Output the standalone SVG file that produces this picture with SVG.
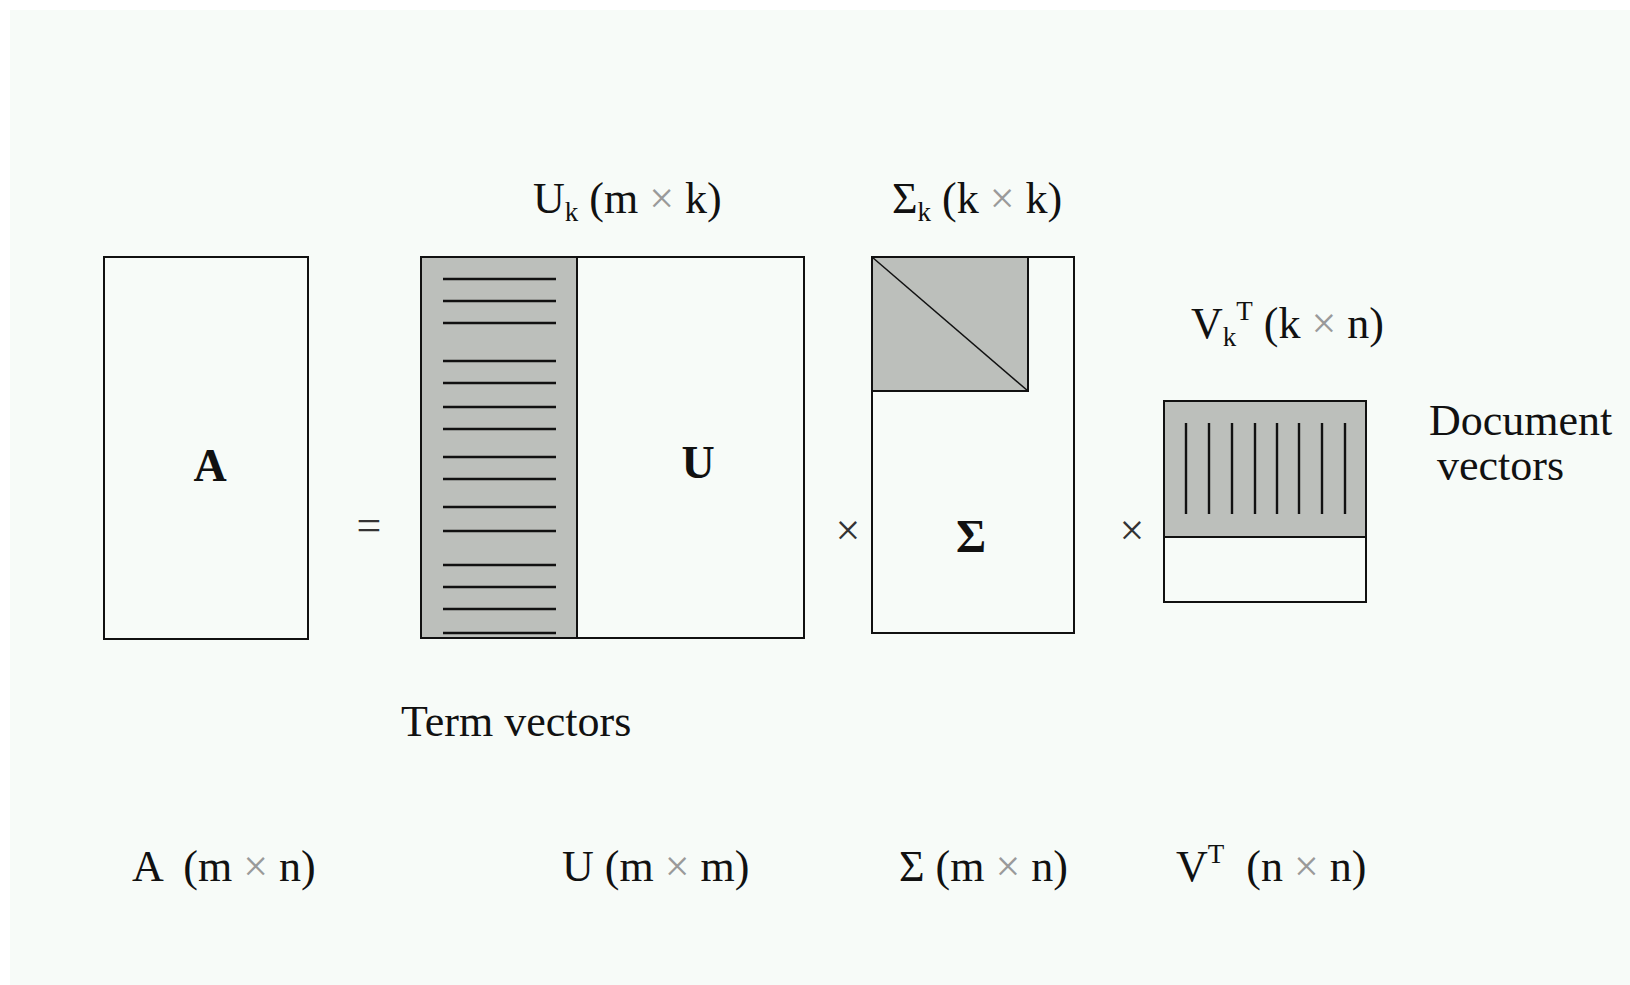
<svg xmlns="http://www.w3.org/2000/svg" width="1630" height="985" viewBox="0 0 1630 985">
<style>
.box{fill:#f7fbf8;stroke:#111;stroke-width:2}
.shade{fill:#bcbfbb;stroke:#111;stroke-width:2}
.hatch{stroke:#111;stroke-width:2.4}
.t{font-family:"Liberation Serif","Times New Roman",serif;font-size:44px;fill:#111}
.b{font-family:"Liberation Serif","Times New Roman",serif;font-size:46px;font-weight:bold;fill:#111;text-anchor:middle}
.x{fill:#9a9a9a}
.op{font-family:"Liberation Serif","Times New Roman",serif;font-size:44px;fill:#333;text-anchor:middle}
</style>
<rect x="0" y="0" width="1630" height="985" fill="#ffffff"/>
<rect x="10" y="10" width="1620" height="975" fill="#f7fbf8"/>

<g id="matrixA">
<rect class="box" x="104" y="257" width="204" height="382"/>
<text class="b" x="210" y="481">A</text>
</g>

<g id="matrixU">
<rect class="box" x="421" y="257" width="383" height="381"/>
<rect class="shade" x="421" y="257" width="156" height="381"/>
<g class="hatch">
<line x1="443" y1="279" x2="556" y2="279"/>
<line x1="443" y1="301" x2="556" y2="301"/>
<line x1="443" y1="323" x2="556" y2="323"/>
<line x1="443" y1="361" x2="556" y2="361"/>
<line x1="443" y1="383" x2="556" y2="383"/>
<line x1="443" y1="407" x2="556" y2="407"/>
<line x1="443" y1="429" x2="556" y2="429"/>
<line x1="443" y1="457" x2="556" y2="457"/>
<line x1="443" y1="479" x2="556" y2="479"/>
<line x1="443" y1="507" x2="556" y2="507"/>
<line x1="443" y1="531" x2="556" y2="531"/>
<line x1="443" y1="565" x2="556" y2="565"/>
<line x1="443" y1="587" x2="556" y2="587"/>
<line x1="443" y1="609" x2="556" y2="609"/>
<line x1="443" y1="633" x2="556" y2="633"/>
</g>
<text class="b" x="698" y="478">U</text>
</g>

<g id="matrixSigma">
<rect class="box" x="872" y="257" width="202" height="376"/>
<rect class="shade" x="872" y="257" width="156" height="134"/>
<line x1="872" y1="257" x2="1028" y2="391" stroke="#111" stroke-width="1.5"/>
<text class="b" x="971" y="552">Σ</text>
</g>

<g id="matrixVT">
<rect class="box" x="1164" y="401" width="202" height="201"/>
<rect class="shade" x="1164" y="401" width="202" height="136"/>
<g class="hatch">
<line x1="1186" y1="423" x2="1186" y2="514"/>
<line x1="1209" y1="423" x2="1209" y2="514"/>
<line x1="1232" y1="423" x2="1232" y2="514"/>
<line x1="1255" y1="423" x2="1255" y2="514"/>
<line x1="1277" y1="423" x2="1277" y2="514"/>
<line x1="1299" y1="423" x2="1299" y2="514"/>
<line x1="1322" y1="423" x2="1322" y2="514"/>
<line x1="1345" y1="423" x2="1345" y2="514"/>
</g>
</g>

<g id="operators">
<text class="op" x="369" y="540">=</text>
<text class="op" x="848" y="545">×</text>
<text class="op" x="1132" y="545">×</text>
</g>

<g id="labels">
<text class="t" x="533" y="213">U<tspan font-size="27" dy="8">k</tspan><tspan dy="-8"> (m </tspan><tspan class="x">×</tspan> k)</text>
<text class="t" x="892" y="213">Σ<tspan font-size="27" dy="8">k</tspan><tspan dy="-8"> (k </tspan><tspan class="x">×</tspan> k)</text>
<text class="t" x="1191" y="338">V<tspan font-size="27" dy="8">k</tspan><tspan font-size="27" dy="-26">T</tspan><tspan dy="18"> (k </tspan><tspan class="x">×</tspan> n)</text>
<text class="t" x="1429" y="435">Document</text>
<text class="t" x="1437" y="480">vectors</text>
<text class="t" x="401" y="736" font-size="45">Term vectors</text>
<text class="t" x="132" y="881" xml:space="preserve">A  (m <tspan class="x">×</tspan> n)</text>
<text class="t" x="562" y="881">U (m <tspan class="x">×</tspan> m)</text>
<text class="t" x="899" y="881">Σ (m <tspan class="x">×</tspan> n)</text>
<text class="t" x="1176" y="881" xml:space="preserve">V<tspan font-size="27" dy="-18">T</tspan><tspan dy="18">  (n </tspan><tspan class="x">×</tspan> n)</text>
</g>
</svg>
